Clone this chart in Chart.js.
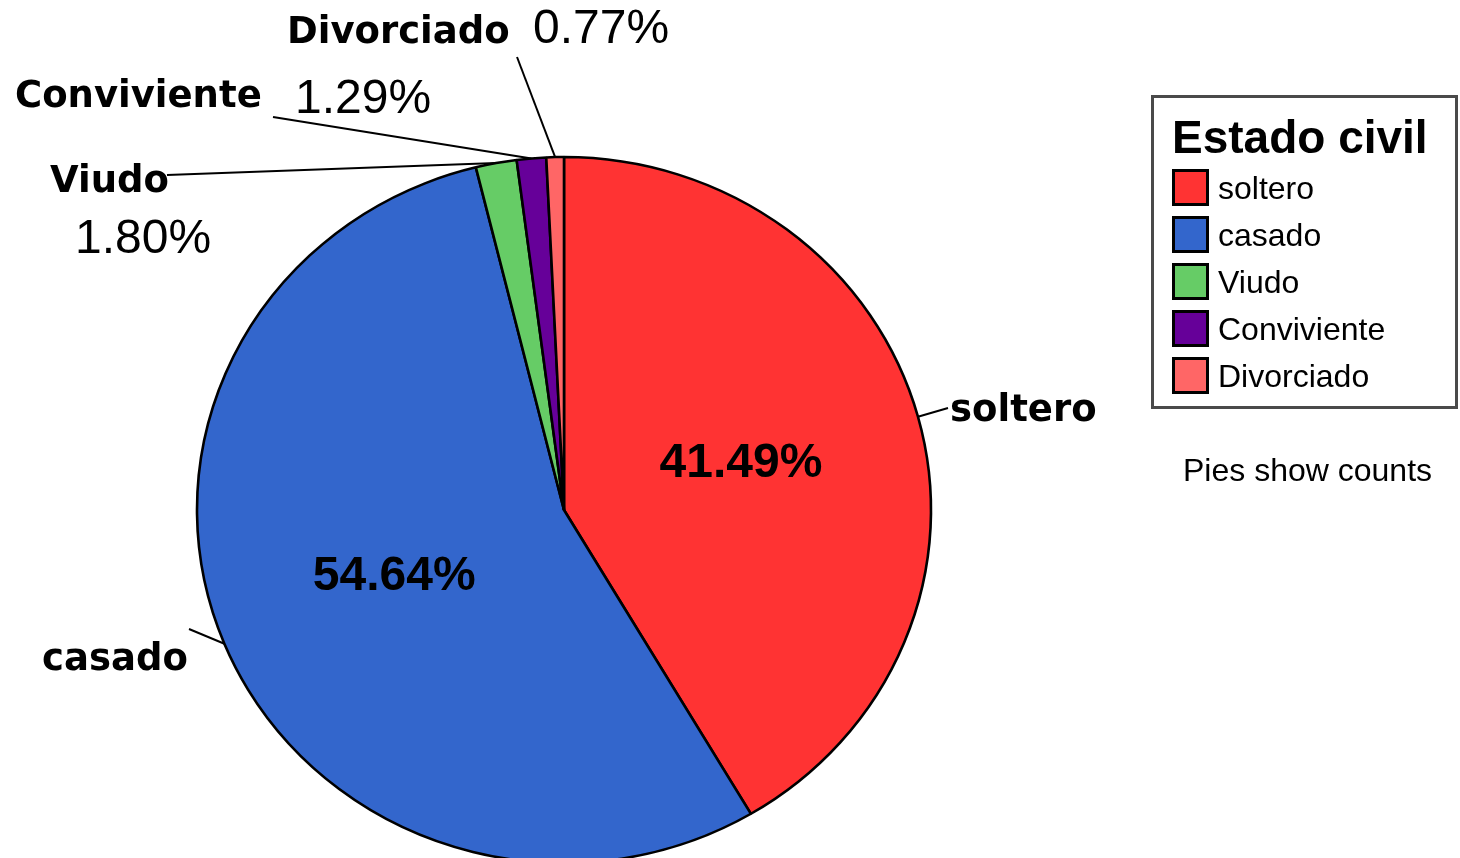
<!DOCTYPE html>
<html>
<head>
<meta charset="utf-8">
<script src="https://cdn.jsdelivr.net/npm/chart.js@4"></script>
<style>
  html, body { margin: 0; padding: 0; background: #fff; }
  #contenedor { width: 1460px; height: 858px; position: relative; }
</style>
</head>
<body>
<div id="contenedor"><canvas id="grafica" width="1460" height="858"></canvas></div>
<script>
// Datos (porcentajes tal como salen en la grafica)
const categorias = ["soltero", "casado", "Viudo", "Conviviente", "Divorciado"];
const porcentajes = [41.49, 54.64, 1.80, 1.29, 0.77];
const colores = ["#ff3333", "#3366cc", "#66cc66", "#660099", "#ff6666"];
const tituloLeyenda = "Estado civil";
const notaLeyenda = "Pies show counts";

// Donde van las etiquetas externas y desde donde sale la linea
const etiquetasExternas = [
  { nombre: { x: 950, y: 421 }, linea: { x: 948, y: 408 }, pct: null },
  { nombre: { x: 42, y: 670 }, linea: { x: 189, y: 629 }, pct: null },
  { nombre: { x: 50, y: 192 }, linea: { x: 167, y: 175 }, pct: { x: 75, y: 253 } },
  { nombre: { x: 15, y: 107 }, linea: { x: 273, y: 117 }, pct: { x: 295, y: 113 } },
  { nombre: { x: 287, y: 43 }, linea: { x: 517, y: 57 }, pct: { x: 533, y: 43 } }
];
// Los sectores grandes llevan el % dentro
const internas = [true, true, false, false, false];

const escalaX = 367 / 353; // el pastel original es un poco ovalado

const textoPct = v => v.toFixed(2) + "%";

function puntoArco(arc, frac) {
  const medio = (arc.startAngle + arc.endAngle) / 2;
  const r = arc.outerRadius * frac;
  return { x: arc.x + escalaX * r * Math.cos(medio), y: arc.y + r * Math.sin(medio) };
}

const ovalo = {
  id: "ovalo",
  beforeDatasetsDraw(chart) {
    const arc = chart.getDatasetMeta(0).data[0];
    const ctx = chart.ctx;
    ctx.save();
    ctx.translate(arc.x, arc.y);
    ctx.scale(escalaX, 1);
    ctx.translate(-arc.x, -arc.y);
  },
  afterDatasetsDraw(chart) {
    chart.ctx.restore();
  }
};

const etiquetas = {
  id: "etiquetas",
  afterDraw(chart) {
    const ctx = chart.ctx;
    const arcos = chart.getDatasetMeta(0).data;
    ctx.save();
    ctx.fillStyle = "#000";
    ctx.strokeStyle = "#000";
    ctx.lineWidth = 2;
    ctx.textBaseline = "alphabetic";

    arcos.forEach((arc, i) => {
      const et = etiquetasExternas[i];
      const p = puntoArco(arc, 1);
      ctx.beginPath();
      ctx.moveTo(et.linea.x, et.linea.y);
      ctx.lineTo(p.x, p.y);
      ctx.stroke();

      ctx.textAlign = "left";
      ctx.font = "bold 37px 'DejaVu Sans'";
      ctx.fillText(categorias[i], et.nombre.x, et.nombre.y);
      if (et.pct) {
        ctx.font = "48px 'Liberation Sans'";
        ctx.fillText(textoPct(porcentajes[i]), et.pct.x, et.pct.y);
      }

      if (internas[i]) {
        const c = puntoArco(arc, 0.5);
        ctx.textAlign = "center";
        ctx.textBaseline = "middle";
        ctx.font = "bold 48px 'Liberation Sans'";
        ctx.fillText(textoPct(porcentajes[i]), c.x, c.y);
        ctx.textBaseline = "alphabetic";
      }
    });

    // Leyenda
    ctx.lineWidth = 3;
    ctx.strokeStyle = "#4a4a4a";
    ctx.strokeRect(1152.5, 96.5, 304, 311);
    ctx.textAlign = "left";
    ctx.font = "bold 46px 'Liberation Sans'";
    ctx.fillText(tituloLeyenda, 1172, 153);
    ctx.font = "32px 'Liberation Sans'";
    categorias.forEach((cat, i) => {
      const y = 169 + i * 47;
      ctx.fillStyle = colores[i];
      ctx.fillRect(1172, y, 37, 37);
      ctx.strokeStyle = "#000";
      ctx.strokeRect(1173.5, y + 1.5, 34, 34);
      ctx.fillStyle = "#000";
      ctx.fillText(cat, 1218, y + 30);
    });
    ctx.fillText(notaLeyenda, 1183, 481);
    ctx.restore();
  }
};

new Chart(document.getElementById("grafica").getContext("2d"), {
  type: "pie",
  data: {
    labels: categorias,
    datasets: [{
      data: porcentajes,
      backgroundColor: colores,
      borderColor: "#000",
      borderWidth: 2.5,
      radius: 353,
      clip: false
    }]
  },
  options: {
    responsive: false,
    animation: false,
    devicePixelRatio: 1,
    layout: { padding: { left: 0, right: 332, top: 162, bottom: 0 } },
    plugins: {
      legend: { display: false },
      tooltip: { enabled: false }
    }
  },
  plugins: [ovalo, etiquetas]
});
</script>
</body>
</html>
